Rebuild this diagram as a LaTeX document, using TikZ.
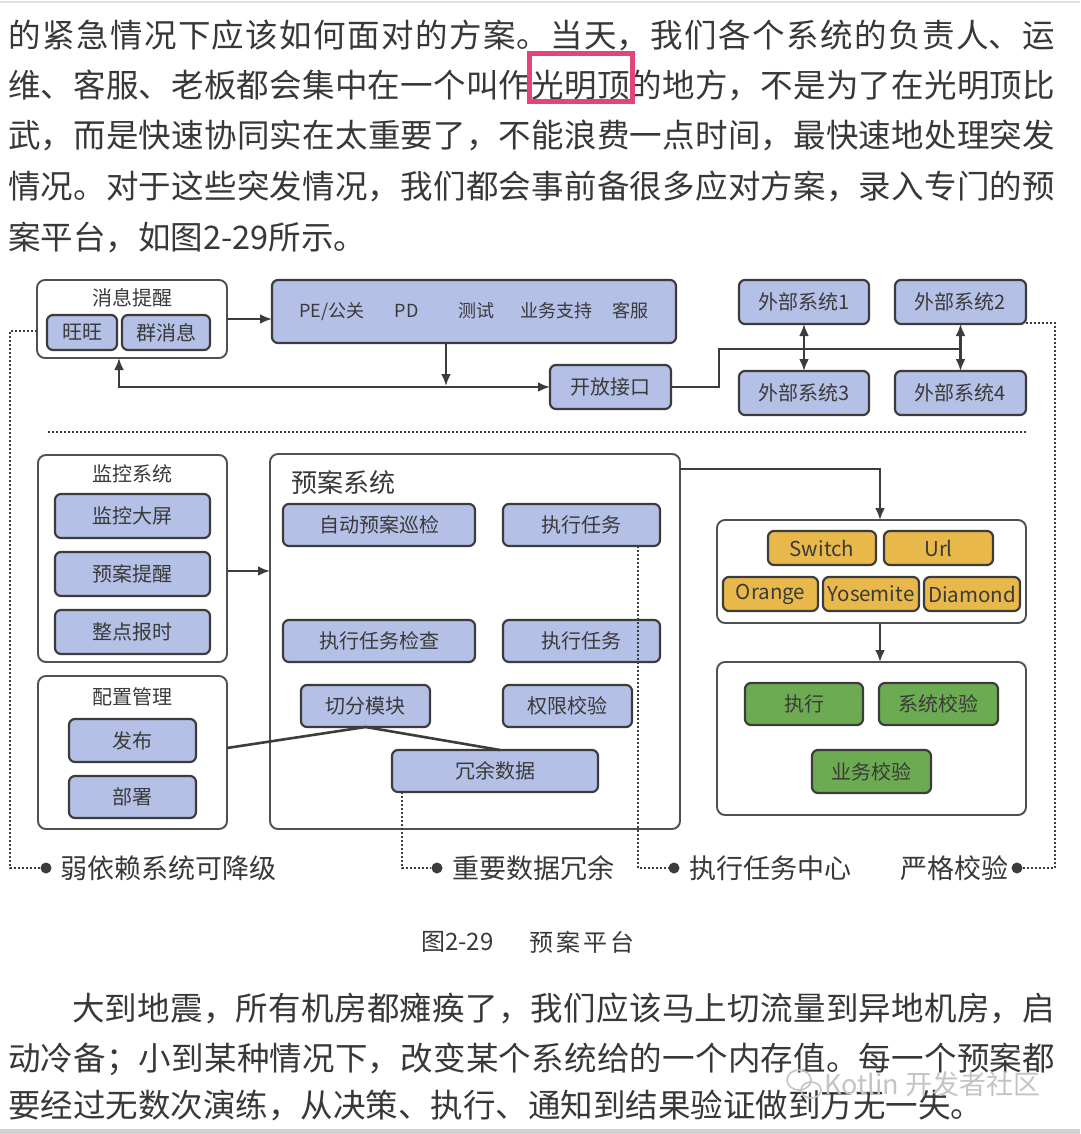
\documentclass[tikz,border=0pt]{standalone}
\usepackage{fontspec}
\setmainfont{Noto Sans CJK SC}
\usetikzlibrary{arrows.meta}
\XeTeXlinebreaklocale "zh"
\XeTeXlinebreakskip=0pt plus 4pt
\definecolor{bluef}{HTML}{B4C0E6}
\definecolor{edgec}{HTML}{3C3C3C}
\definecolor{contc}{HTML}{505050}
\definecolor{yelf}{HTML}{E8B84B}
\definecolor{grnf}{HTML}{6DAB52}
\definecolor{txtc}{HTML}{383838}
\definecolor{boxtxt}{HTML}{3A3A3A}
\definecolor{pinkc}{HTML}{E5437C}
\definecolor{wmc}{HTML}{C4C4C4}
\tikzset{
  cont/.style={draw=contc, line width=1.9pt, rounded corners=8pt, fill=white, inner sep=0pt, outer sep=0pt},
  bb/.style={draw=edgec, line width=2.2pt, rounded corners=6pt, fill=bluef, inner sep=0pt, outer sep=0pt, text=boxtxt, font=\fontsize{20}{24}\selectfont},
  yb/.style={bb, fill=yelf, font=\fontsize{20.5}{24}\selectfont},
  gb/.style={bb, fill=grnf},
  ttl/.style={inner sep=0pt, text=boxtxt, font=\fontsize{20}{24}\selectfont},
  lbl/.style={inner sep=0pt, text=txtc, font=\fontsize{27}{30}\selectfont},
  body/.style={inner sep=0pt, text=txtc, text width=1047pt, align=justify, font=\fontsize{32.5}{50}\selectfont},
  ln/.style={line width=2.6pt, draw=edgec},
  arr/.style={ln, -{Latex[length=12pt,width=10pt]}},
  arrb/.style={ln, {Latex[length=12pt,width=10pt]}-{Latex[length=12pt,width=10pt]}},
  dotl/.style={line width=2.8pt, draw=edgec, dash pattern=on 1.6pt off 2.4pt},
  bul/.style={circle, fill=edgec, inner sep=0pt, minimum size=11pt},
  hlbox/.style={draw=pinkc, line width=5pt, inner sep=0pt, outer sep=0pt}
}
\newcommand\rbox[7]{%
  \pgfmathsetmacro\rbw{#5-#3}\pgfmathsetmacro\rbh{#6-#4}%
  \pgfmathsetmacro\rbx{(#3+#5)/2}\pgfmathsetmacro\rby{(#4+#6)/2}%
  \node[#2, minimum width=\rbw pt, minimum height=\rbh pt] (#1) at (\rbx,\rby) {#7};}
\begin{document}
\begin{tikzpicture}[x=1pt,y=-1pt]
\useasboundingbox (0,0) rectangle (1080,1134);
\fill[white] (0,0) rectangle (1080,1134);
\draw[gray!25, line width=2pt] (0,2) -- (1080,2);
\fill[gray!35] (0,1129) rectangle (1080,1134);

% body text top
\node[body, anchor=base west] (tx1) at (8,48) {\noindent\parfillskip=0pt 的紧急情况下应该如何面对的方案。当天，我们各个系统的负责人、运\par};
\node[body, anchor=base west] (tx2) at (8,98) {\noindent\parfillskip=0pt 维、客服、老板都会集中在一个叫作光明顶的地方，不是为了在光明顶比\par};
\node[body, anchor=base west] (tx3) at (8,148) {\noindent\parfillskip=0pt 武，而是快速协同实在太重要了，不能浪费一点时间，最快速地处理突发\par};
\node[body, anchor=base west] (tx4) at (8,198) {\noindent\parfillskip=0pt 情况。对于这些突发情况，我们都会事前备很多应对方案，录入专门的预\par};
\node[body, anchor=base west] (tx5) at (8,249) {\noindent 案平台，如图2-29所示。\par};
\rbox{hl}{hlbox}{529}{54}{632}{102}{}

% top section
\rbox{msg}{cont}{37}{280}{227}{358}{}
\node[ttl] (msgt) at (132,298) {消息提醒};
\rbox{ww}{bb}{47}{315}{117}{350}{旺旺}
\rbox{qun}{bb}{122}{315}{210}{350}{群消息}
\rbox{pe}{bb, font=\fontsize{18}{20}\selectfont}{272}{280}{676}{343}{PE/公关\hspace{30pt}PD\hspace{40pt}测试\hspace{26pt}业务支持\hspace{20pt}客服}
\rbox{open}{bb}{550}{365}{671}{409}{开放接口}
\rbox{ext1}{bb}{739}{280}{869}{324}{外部系统1}
\rbox{ext2}{bb}{895}{280}{1026}{324}{外部系统2}
\rbox{ext3}{bb}{739}{371}{869}{415}{外部系统3}
\rbox{ext4}{bb}{895}{371}{1026}{415}{外部系统4}

\coordinate (yA) at (0,319);
\draw[arr] (msg.east |- yA) -- (pe.west |- yA);
\coordinate (jd) at (446,386);
\draw[arr] (pe.south -| jd) -- (jd);
\coordinate (jl) at (119,387);
\draw[arrb] (msg.south -| jl) -- (jl) -- (open.west |- jl);
\coordinate (kA) at (719,349);
\draw[ln] (open.east) -- (open.east -| kA) -- (kA) -- (ext2.south |- kA);
\draw[arrb] (ext1.south) -- (ext3.north);
\draw[arrb] (ext2.south) -- (ext4.north);

% separator
\coordinate (sepA) at (48,432);
\coordinate (sepB) at (1026,432);
\draw[dotl] (sepA) -- (sepB);

% monitor
\rbox{mon}{cont}{38}{455}{227}{662}{}
\node[ttl] (mont) at (132,474) {监控系统};
\rbox{m1}{bb}{55}{494}{210}{538}{监控大屏}
\rbox{m2}{bb}{55}{552}{210}{596}{预案提醒}
\rbox{m3}{bb}{55}{610}{210}{654}{整点报时}

% config
\rbox{cfg}{cont}{38}{676}{227}{829}{}
\node[ttl] (cfgt) at (132,697) {配置管理};
\rbox{c1}{bb}{69}{719}{196}{762}{发布}
\rbox{c2}{bb}{69}{776}{196}{818}{部署}

% plan system
\rbox{plan}{cont}{270}{454}{680}{829}{}
\node[inner sep=0pt, text=txtc, font=\fontsize{26}{30}\selectfont, anchor=west] (plant) at (291,483) {预案系统};
\rbox{p1}{bb}{283}{504}{475}{546}{自动预案巡检}
\rbox{p2}{bb}{503}{504}{660}{546}{执行任务}
\rbox{p3}{bb}{283}{620}{475}{662}{执行任务检查}
\rbox{p4}{bb}{503}{620}{660}{662}{执行任务}
\rbox{p5}{bb}{301}{685}{430}{727}{切分模块}
\rbox{p6}{bb}{503}{685}{632}{727}{权限校验}
\rbox{p7}{bb}{392}{750}{598}{792}{冗余数据}

% switch container
\rbox{sw}{cont}{717}{520}{1026}{623}{}
\rbox{y1}{yb}{768}{531}{876}{565}{Switch}
\rbox{y2}{yb}{884}{531}{993}{565}{Url}
\rbox{y3}{yb}{723}{577}{818}{611}{Orange}
\rbox{y4}{yb}{823}{577}{919}{611}{Yosemite}
\rbox{y5}{yb}{924}{577}{1020}{611}{Diamond}

% green container
\rbox{gr}{cont}{717}{662}{1026}{815}{}
\rbox{g1}{gb}{745}{683}{863}{725}{执行}
\rbox{g2}{gb}{879}{683}{998}{725}{系统校验}
\rbox{g3}{gb}{812}{750}{931}{793}{业务校验}

% connectors
\coordinate (yB) at (0,571);
\draw[arr] (mon.east |- yB) -- (plan.west |- yB);
\coordinate (yC) at (880,469);
\draw[arr] (plan.east |- yC) -- (yC) -- (sw.north -| yC);
\draw[arr] (sw.south -| yC) -- (gr.north -| yC);
\coordinate (yD) at (0,748);
\coordinate (xE) at (500,0);
\draw[ln] (cfg.east |- yD) -- (p5.south) -- (p7.north -| xE);

% bottom labels
\node[bul] (bl1) at (46,868) {};
\node[lbl, anchor=west] (lb1) at (60,868) {弱依赖系统可降级};
\node[bul] (bl2) at (437,868) {};
\node[lbl, anchor=west] (lb2) at (452,868) {重要数据冗余};
\node[bul] (bl3) at (674,868) {};
\node[lbl, anchor=west] (lb3) at (689,868) {执行任务中心};
\node[lbl, anchor=east] (lb4) at (1009,868) {严格校验};
\node[bul] (bl4) at (1017,868) {};

% dotted connectors
\coordinate (xL) at (10,0);
\coordinate (xR) at (1055,0);
\coordinate (yBot) at (0,868);
\coordinate (yTl) at (0,331);
\coordinate (yTr) at (0,323);
\draw[dotl] (msg.west |- yTl) -- (xL |- yTl) -- (xL |- yBot) -- (bl1);
\draw[dotl] (ext2.east |- yTr) -- (xR |- yTr) -- (xR |- yBot) -- (bl4);
\coordinate (xF) at (402,0);
\draw[dotl] (p7.south -| xF) -- (xF |- yBot) -- (bl2);
\coordinate (xG) at (638,0);
\draw[dotl] (p2.south -| xG) -- (xG |- yBot) -- (bl3);

% caption
\node[inner sep=0pt, text=txtc, font=\fontsize{24}{26}\selectfont, anchor=west] (cap1) at (421,942) {图2-29};
\node[inner sep=0pt, text=txtc, font=\fontsize{24}{26}\selectfont, anchor=west] (cap2) at (529,942) {预\hspace{3pt}案\hspace{3pt}平\hspace{3pt}台};

% bottom paragraph
\node[body, anchor=base west] (tx6) at (8,1020) {\noindent\parfillskip=0pt\hspace*{64pt}大到地震，所有机房都瘫痪了，我们应该马上切流量到异地机房，启\par};
\node[body, anchor=base west] (tx7) at (8,1070) {\noindent\parfillskip=0pt 动冷备；小到某种情况下，改变某个系统给的一个内存值。每一个预案都\par};
\node[body, anchor=base west] (tx8) at (8,1117) {\noindent 要经过无数次演练，从决策、执行、通知到结果验证做到万无一失。\par};

% watermark
\draw[wmc, line width=1.6pt] (799,1080) ellipse (12 and 10);
\draw[wmc, line width=1.6pt] (811,1090) ellipse (10 and 8);
\node[inner sep=0pt, text=wmc, font=\fontsize{27}{30}\selectfont, anchor=west] (wm) at (824,1084) {Kotlin 开发者社区};
\end{tikzpicture}
\end{document}
